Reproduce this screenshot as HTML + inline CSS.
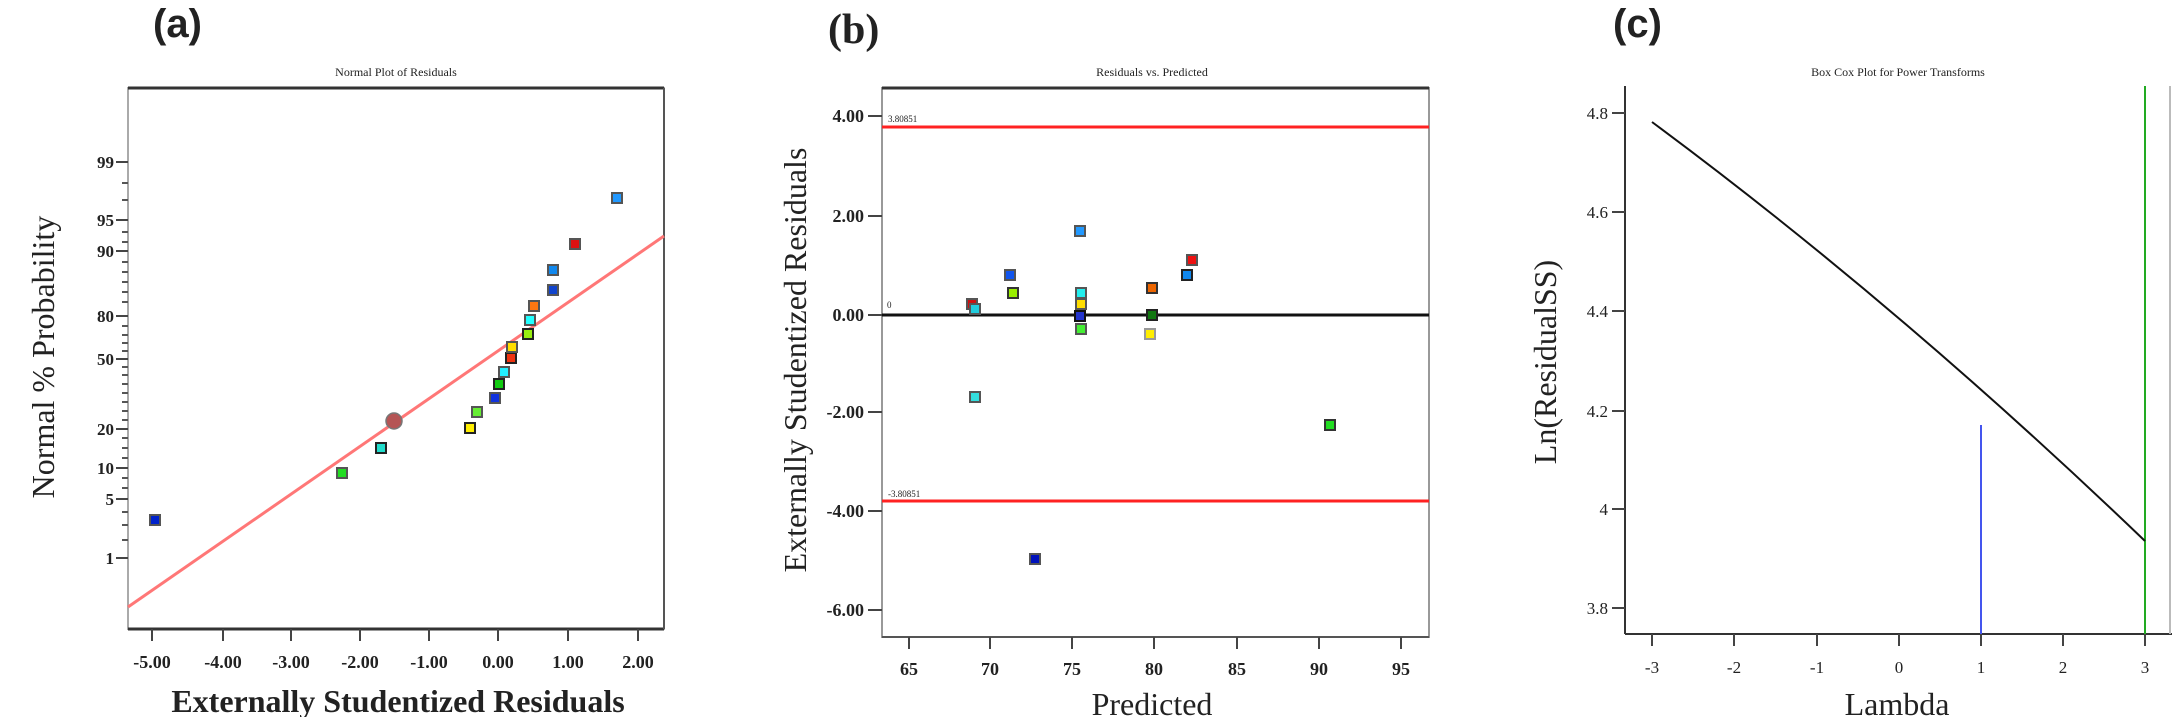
<!DOCTYPE html>
<html><head><meta charset="utf-8"><style>
html,body{margin:0;padding:0;background:#fff;}
svg{display:block;}
text{font-family:"Liberation Serif",serif;fill:#222;}
</style></head><body>
<svg width="2172" height="717" viewBox="0 0 2172 717" xmlns="http://www.w3.org/2000/svg">
<!-- ===== (a) ===== -->
<text x="153" y="37" style="font-family:'Liberation Sans',sans-serif;font-weight:bold;font-size:40px" fill="#111">(a)</text>
<text x="396" y="76" font-size="12" text-anchor="middle">Normal Plot of Residuals</text>
<rect x="128" y="88" width="536" height="541" fill="none" stroke="#aaa" stroke-width="2"/>
<line x1="128" y1="88" x2="664" y2="88" stroke="#333" stroke-width="3"/>
<line x1="128" y1="629" x2="664" y2="629" stroke="#333" stroke-width="3"/>
<line x1="664" y1="88" x2="664" y2="629" stroke="#555" stroke-width="2"/>
<g stroke="#444" stroke-width="2">
<line x1="116" y1="162" x2="128" y2="162"/><line x1="116" y1="220" x2="128" y2="220"/>
<line x1="116" y1="251" x2="128" y2="251"/><line x1="116" y1="316" x2="128" y2="316"/>
<line x1="116" y1="359" x2="128" y2="359"/><line x1="116" y1="429" x2="128" y2="429"/>
<line x1="116" y1="468" x2="128" y2="468"/><line x1="116" y1="499" x2="128" y2="499"/>
<line x1="116" y1="558" x2="128" y2="558"/>
</g>
<g stroke="#555" stroke-width="2">
<line x1="122" y1="183" x2="128" y2="183"/><line x1="122" y1="200" x2="128" y2="200"/>
<line x1="122" y1="232" x2="128" y2="232"/><line x1="122" y1="242" x2="128" y2="242"/>
<line x1="122" y1="262" x2="128" y2="262"/><line x1="122" y1="272" x2="128" y2="272"/>
<line x1="122" y1="282" x2="128" y2="282"/><line x1="122" y1="292" x2="128" y2="292"/>
<line x1="122" y1="302" x2="128" y2="302"/><line x1="122" y1="326" x2="128" y2="326"/>
<line x1="122" y1="335" x2="128" y2="335"/><line x1="122" y1="343" x2="128" y2="343"/>
<line x1="122" y1="351" x2="128" y2="351"/><line x1="122" y1="367" x2="128" y2="367"/>
<line x1="122" y1="375" x2="128" y2="375"/><line x1="122" y1="384" x2="128" y2="384"/>
<line x1="122" y1="393" x2="128" y2="393"/><line x1="122" y1="402" x2="128" y2="402"/>
<line x1="122" y1="411" x2="128" y2="411"/><line x1="122" y1="420" x2="128" y2="420"/>
<line x1="122" y1="438" x2="128" y2="438"/><line x1="122" y1="448" x2="128" y2="448"/>
<line x1="122" y1="458" x2="128" y2="458"/><line x1="122" y1="478" x2="128" y2="478"/>
<line x1="122" y1="488" x2="128" y2="488"/><line x1="122" y1="512" x2="128" y2="512"/>
<line x1="122" y1="525" x2="128" y2="525"/><line x1="122" y1="540" x2="128" y2="540"/>
</g>
<g font-size="17" text-anchor="end" font-weight="bold" fill="#333">
<text x="114" y="168">99</text><text x="114" y="226">95</text><text x="114" y="257">90</text>
<text x="114" y="322">80</text><text x="114" y="365">50</text><text x="114" y="435">20</text>
<text x="114" y="474">10</text><text x="114" y="505">5</text><text x="114" y="564">1</text>
</g>
<g stroke="#444" stroke-width="2">
<line x1="152" y1="629" x2="152" y2="641"/><line x1="223" y1="629" x2="223" y2="641"/>
<line x1="291" y1="629" x2="291" y2="641"/><line x1="360" y1="629" x2="360" y2="641"/>
<line x1="429" y1="629" x2="429" y2="641"/><line x1="498" y1="629" x2="498" y2="641"/>
<line x1="568" y1="629" x2="568" y2="641"/><line x1="638" y1="629" x2="638" y2="641"/>
</g>
<g font-size="18" text-anchor="middle" font-weight="bold" fill="#333">
<text x="152" y="668">-5.00</text><text x="223" y="668">-4.00</text><text x="291" y="668">-3.00</text>
<text x="360" y="668">-2.00</text><text x="429" y="668">-1.00</text><text x="498" y="668">0.00</text>
<text x="568" y="668">1.00</text><text x="638" y="668">2.00</text>
</g>
<text x="398" y="712" font-size="32" text-anchor="middle" font-weight="bold" fill="#333">Externally Studentized Residuals</text>
<text transform="translate(54,357) rotate(-90)" font-size="32" text-anchor="middle" fill="#333">Normal % Probability</text>
<line x1="128" y1="607" x2="664" y2="236" stroke="#f77" stroke-width="3"/>
<g stroke="#555" stroke-width="2">
<rect x="150" y="515" width="10" height="10" fill="#0022cc"/>
<rect x="337" y="468" width="10" height="10" fill="#22dd22"/>
<rect x="376" y="443" width="10" height="10" fill="#22ddcc" stroke="#222"/>
<rect x="465" y="423" width="10" height="10" fill="#ffee00" stroke="#222"/>
<rect x="472" y="407" width="10" height="10" fill="#66ee33"/>
<rect x="490" y="393" width="10" height="10" fill="#1133dd"/>
<rect x="494" y="379" width="10" height="10" fill="#11cc11" stroke="#222"/>
<rect x="499" y="367" width="10" height="10" fill="#22eeff"/>
<rect x="506" y="353" width="10" height="10" fill="#ee3311" stroke="#222"/>
<rect x="507" y="342" width="10" height="10" fill="#ffdd00"/>
<rect x="523" y="329" width="10" height="10" fill="#99ee11" stroke="#222"/>
<rect x="525" y="315" width="10" height="10" fill="#22ffff"/>
<rect x="529" y="301" width="10" height="10" fill="#ff7711"/>
<rect x="548" y="285" width="10" height="10" fill="#1144cc"/>
<rect x="548" y="265" width="10" height="10" fill="#1188ee"/>
<rect x="570" y="239" width="10" height="10" fill="#dd1111"/>
<rect x="612" y="193" width="10" height="10" fill="#2299ff"/>
</g>
<circle cx="394" cy="421" r="8" fill="#b55555" stroke="#777" stroke-width="1.5"/>

<!-- ===== (b) ===== -->
<text x="828" y="43" font-size="42" font-weight="bold" fill="#111">(b)</text>
<text x="1152" y="76" font-size="12" text-anchor="middle">Residuals vs. Predicted</text>
<rect x="882" y="88" width="547" height="549" fill="none" stroke="#999" stroke-width="2"/>
<line x1="882" y1="88" x2="1429" y2="88" stroke="#333" stroke-width="3"/>
<line x1="882" y1="637" x2="1429" y2="637" stroke="#555" stroke-width="2"/>
<line x1="882" y1="127" x2="1429" y2="127" stroke="#f22" stroke-width="3"/>
<line x1="882" y1="501" x2="1429" y2="501" stroke="#f22" stroke-width="3"/>
<line x1="882" y1="315" x2="1429" y2="315" stroke="#111" stroke-width="3"/>
<text x="888" y="122" font-size="9">3.80851</text>
<text x="888" y="497" font-size="9">-3.80851</text>
<text x="887" y="308" font-size="9">0</text>
<g stroke="#444" stroke-width="2">
<line x1="868" y1="116" x2="882" y2="116"/><line x1="868" y1="216" x2="882" y2="216"/>
<line x1="868" y1="315" x2="882" y2="315"/><line x1="868" y1="412" x2="882" y2="412"/>
<line x1="868" y1="511" x2="882" y2="511"/><line x1="868" y1="610" x2="882" y2="610"/>
<line x1="909" y1="637" x2="909" y2="649"/><line x1="990" y1="637" x2="990" y2="649"/>
<line x1="1072" y1="637" x2="1072" y2="649"/><line x1="1154" y1="637" x2="1154" y2="649"/>
<line x1="1237" y1="637" x2="1237" y2="649"/><line x1="1319" y1="637" x2="1319" y2="649"/>
<line x1="1401" y1="637" x2="1401" y2="649"/>
</g>
<g font-size="18" text-anchor="end" font-weight="bold" fill="#333">
<text x="864" y="122">4.00</text><text x="864" y="222">2.00</text><text x="864" y="321">0.00</text>
<text x="864" y="418">-2.00</text><text x="864" y="517">-4.00</text><text x="864" y="616">-6.00</text>
</g>
<g font-size="18" text-anchor="middle" font-weight="bold" fill="#333">
<text x="909" y="675">65</text><text x="990" y="675">70</text><text x="1072" y="675">75</text>
<text x="1154" y="675">80</text><text x="1237" y="675">85</text><text x="1319" y="675">90</text>
<text x="1401" y="675">95</text>
</g>
<text x="1152" y="715" font-size="32" text-anchor="middle" fill="#333">Predicted</text>
<text transform="translate(806,360) rotate(-90)" font-size="32" text-anchor="middle" fill="#333">Externally Studentized Residuals</text>
<g stroke="#555" stroke-width="2">
<rect x="967" y="299" width="10" height="10" fill="#cc1111"/>
<rect x="970" y="304" width="10" height="10" fill="#22ccdd"/>
<rect x="970" y="392" width="10" height="10" fill="#33dddd"/>
<rect x="1005" y="270" width="10" height="10" fill="#1155ee"/>
<rect x="1008" y="288" width="10" height="10" fill="#99ee00" stroke="#333"/>
<rect x="1030" y="554" width="10" height="10" fill="#0011bb"/>
<rect x="1075" y="226" width="10" height="10" fill="#2299ff"/>
<rect x="1076" y="288" width="10" height="10" fill="#22eeee"/>
<rect x="1076" y="299" width="10" height="10" fill="#ffdd00"/>
<rect x="1075" y="311" width="10" height="10" fill="#2233cc" stroke="#111"/>
<rect x="1076" y="324" width="10" height="10" fill="#44ee33"/>
<rect x="1147" y="283" width="10" height="10" fill="#ee6600" stroke="#333"/>
<rect x="1147" y="310" width="10" height="10" fill="#117711" stroke="#222"/>
<rect x="1145" y="329" width="10" height="10" fill="#ffee00" stroke="#999"/>
<rect x="1182" y="270" width="10" height="10" fill="#1188ee" stroke="#222"/>
<rect x="1187" y="255" width="10" height="10" fill="#ee1111"/>
<rect x="1325" y="420" width="10" height="10" fill="#22dd22" stroke="#333"/>
</g>

<!-- ===== (c) ===== -->
<text x="1613" y="37" style="font-family:'Liberation Sans',sans-serif;font-weight:bold;font-size:40px" fill="#111">(c)</text>
<text x="1898" y="76" font-size="12" text-anchor="middle">Box Cox Plot for Power Transforms</text>
<line x1="1625" y1="86" x2="1625" y2="634" stroke="#333" stroke-width="2"/>
<line x1="1625" y1="634" x2="2172" y2="634" stroke="#333" stroke-width="2"/>
<line x1="2170" y1="86" x2="2170" y2="634" stroke="#bbb" stroke-width="2"/>
<g stroke="#444" stroke-width="2">
<line x1="1612" y1="113" x2="1625" y2="113"/><line x1="1612" y1="212" x2="1625" y2="212"/>
<line x1="1612" y1="311" x2="1625" y2="311"/><line x1="1612" y1="411" x2="1625" y2="411"/>
<line x1="1612" y1="509" x2="1625" y2="509"/><line x1="1612" y1="608" x2="1625" y2="608"/>
<line x1="1652" y1="634" x2="1652" y2="646"/><line x1="1734" y1="634" x2="1734" y2="646"/>
<line x1="1817" y1="634" x2="1817" y2="646"/><line x1="1899" y1="634" x2="1899" y2="646"/>
<line x1="1981" y1="634" x2="1981" y2="646"/><line x1="2063" y1="634" x2="2063" y2="646"/>
<line x1="2145" y1="634" x2="2145" y2="646"/>
</g>
<g font-size="17" text-anchor="end" fill="#333">
<text x="1608" y="119">4.8</text><text x="1608" y="218">4.6</text><text x="1608" y="317">4.4</text>
<text x="1608" y="417">4.2</text><text x="1608" y="515">4</text><text x="1608" y="614">3.8</text>
</g>
<g font-size="17" text-anchor="middle" fill="#333">
<text x="1652" y="673">-3</text><text x="1734" y="673">-2</text><text x="1817" y="673">-1</text>
<text x="1899" y="673">0</text><text x="1981" y="673">1</text><text x="2063" y="673">2</text>
<text x="2145" y="673">3</text>
</g>
<text x="1897" y="715" font-size="32" text-anchor="middle" fill="#333">Lambda</text>
<text transform="translate(1556,362) rotate(-90)" font-size="32" text-anchor="middle" fill="#333">Ln(ResidualSS)</text>
<line x1="1981" y1="425" x2="1981" y2="634" stroke="#4455ee" stroke-width="2"/>
<line x1="2145" y1="86" x2="2145" y2="634" stroke="#22aa22" stroke-width="2"/>
<path d="M1652,122 Q1899,305 2145,541" fill="none" stroke="#111" stroke-width="2"/>
</svg>
</body></html>
